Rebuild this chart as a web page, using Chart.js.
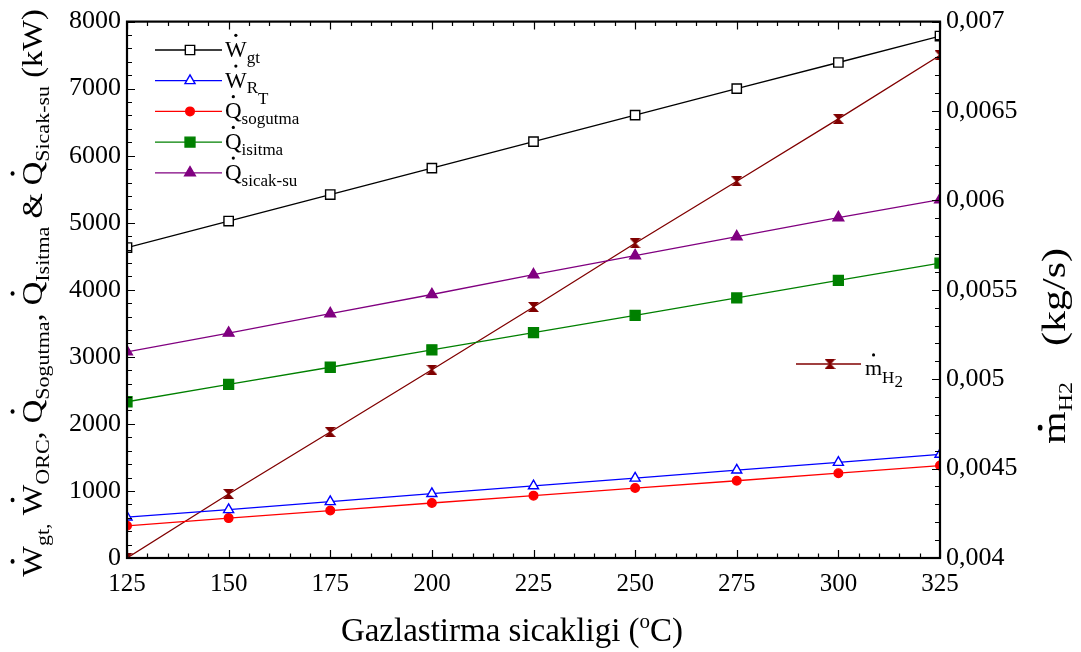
<!DOCTYPE html>
<html>
<head>
<meta charset="utf-8">
<script src="https://cdn.jsdelivr.net/npm/chart.js@4.4.1/dist/chart.umd.min.js"></script>
<style>
  html, body { margin: 0; padding: 0; background: #ffffff; }
  #wrap { width: 1081px; height: 652px; }
</style>
</head>
<body>
<div id="wrap"><canvas id="c" width="1081" height="652"></canvas></div>
<script>
// Gasification temperature (°C)
const temps = [125, 150, 175, 200, 225, 250, 275, 300, 325];

// Powers and heat loads (kW)
const wGt       = [4630, 5025, 5420, 5815, 6210, 6605, 7000, 7390, 7785];
const wRT       = [610, 720, 840, 960, 1075, 1190, 1310, 1425, 1545];
const qSogutma  = [480, 595, 708, 820, 930, 1043, 1152, 1265, 1378];
const qIsitma   = [2330, 2590, 2845, 3105, 3360, 3620, 3880, 4140, 4398];
const qSicakSu  = [3075, 3355, 3645, 3930, 4225, 4510, 4792, 5077, 5345];

// Hydrogen mass flow (kg/s)
const mH2 = [0.004, 0.004358, 0.004705, 0.005053, 0.005404, 0.00576, 0.006107, 0.006456, 0.006812];

// Tick labels
const xTickValues = [125, 150, 175, 200, 225, 250, 275, 300, 325];
const leftTickValues = [0, 1000, 2000, 3000, 4000, 5000, 6000, 7000, 8000];
const rightTickValues = [0.004, 0.0045, 0.005, 0.0055, 0.006, 0.0065, 0.007];
const rightTickLabels = ['0,004', '0,0045', '0,005', '0,0055', '0,006', '0,0065', '0,007'];

const FAM = "'Liberation Serif', 'Times New Roman', serif";

// hourglass marker used for the hydrogen series
function hourglass(color, w, h) {
  const c = document.createElement('canvas');
  c.width = w; c.height = h;
  const g = c.getContext('2d');
  g.fillStyle = color;
  g.beginPath();
  g.moveTo(0, 0); g.lineTo(w, 0); g.lineTo(w / 2 + 1, h / 2);
  g.lineTo(w, h); g.lineTo(0, h); g.lineTo(w / 2 - 1, h / 2);
  g.closePath(); g.fill();
  return c;
}
const hgMarker = hourglass('#800000', 11, 10);

function pts(ys) { return temps.map((t, i) => ({ x: t, y: ys[i] })); }

const series = [
  { data: wGt, color: '#000000', style: 'rect', r: 6.6, fill: '#ffffff', axis: 'y' },
  { data: wRT, color: '#0000ff', style: 'triangle', r: 5.8, fill: '#ffffff', axis: 'y' },
  { data: qSogutma, color: '#ff0000', style: 'circle', r: 4.3, fill: '#ff0000', axis: 'y' },
  { data: qIsitma, color: '#008000', style: 'rect', r: 7, fill: '#008000', axis: 'y' },
  { data: qSicakSu, color: '#800080', style: 'triangle', r: 6.2, fill: '#800080', axis: 'y' },
  { data: mH2, color: '#800000', style: hgMarker, r: 5, fill: '#800000', axis: 'y2' }
];

const datasets = series.map(s => ({
  data: pts(s.data),
  yAxisID: s.axis,
  borderColor: s.color,
  borderWidth: 1.3,
  pointStyle: s.style,
  pointRadius: s.r,
  pointBackgroundColor: s.fill,
  pointBorderColor: s.color,
  pointBorderWidth: 1.4,
  tension: 0
}));

// rich text: parts of {t, size, dy, dot, up, gap}
function partWidth(ctx, p) {
  if (p.gap) return p.gap;
  ctx.font = p.size + 'px ' + FAM;
  return ctx.measureText(p.t).width;
}
function drawRich(ctx, x, y, parts) {
  ctx.fillStyle = '#000';
  ctx.textAlign = 'left';
  ctx.textBaseline = 'alphabetic';
  let cx = x;
  for (const p of parts) {
    const w = partWidth(ctx, p);
    if (!p.gap) {
      ctx.font = p.size + 'px ' + FAM;
      const by = y + (p.dy || 0);
      ctx.fillText(p.t, cx, by);
      if (p.dot) {
        const top = (p.t === 'm') ? p.size * 0.46 : p.size * 0.66;
        ctx.beginPath();
        ctx.arc(cx + w / 2, by - top - p.up, Math.max(1.4, p.size * 0.07), 0, Math.PI * 2);
        ctx.fill();
      }
    }
    cx += w;
  }
  return cx - x;
}
function richWidth(ctx, parts) {
  let w = 0;
  for (const p of parts) w += partWidth(ctx, p);
  return w;
}

// legend labels
const L = 23, S = 17;
const legendLabels = [
  [{ t: 'W', size: L, dot: true, up: 6.5 }, { t: 'gt', size: S, dy: 6 }],
  [{ t: 'W', size: L, dot: true, up: 6.5 }, { t: 'R', size: S, dy: 5 }, { t: 'T', size: S, dy: 16 }],
  [{ t: 'Q', size: L, dot: true, up: 6.5 }, { t: 'sogutma', size: S, dy: 6 }],
  [{ t: 'Q', size: L, dot: true, up: 6.5 }, { t: 'isitma', size: S, dy: 6 }],
  [{ t: 'Q', size: L, dot: true, up: 6.5 }, { t: 'sicak-su', size: S, dy: 6 }]
];
const h2Label = [{ t: 'm', size: 22, dot: true, up: 10 }, { t: 'H', size: 17, dy: 8 }, { t: '2', size: 17, dy: 12 }];

// axis titles
const T = 32.5, TS = 22, TD = 8;
const leftTitle = [
  { t: 'W', size: T, dot: true, up: 12 }, { t: 'gt,', size: TS, dy: TD }, { t: ' ', size: T },
  { t: 'W', size: T, dot: true, up: 12 }, { t: 'ORC', size: TS, dy: TD }, { t: ', ', size: T },
  { t: 'Q', size: T, dot: true, up: 12 }, { t: 'Sogutma', size: TS, dy: TD }, { t: ', ', size: T },
  { t: 'Q', size: T, dot: true, up: 12 }, { t: 'Isitma', size: TS, dy: TD }, { t: ' & ', size: T },
  { t: 'Q', size: T, dot: true, up: 12 }, { t: 'Sicak-su', size: TS, dy: TD }, { t: ' (kW)', size: T }
];
const rightTitle = [
  { t: 'm', size: 42, dot: true, up: 11 }, { t: 'H2', size: 24, dy: 9 }, { gap: 36 }, { t: '(kg/s)', size: 42 }
];
const xTitle = [
  { t: 'Gazlastirma sicakligi (', size: 33 }, { t: 'o', size: 21, dy: -13 }, { t: 'C)', size: 33 }
];

const decor = {
  id: 'decor',
  afterDatasetsDraw(chart) {
    const ctx = chart.ctx;
    const a = chart.chartArea;
    const xs = chart.scales.x, ys = chart.scales.y, y2 = chart.scales.y2;
    ctx.save();
    ctx.strokeStyle = '#000';
    ctx.lineWidth = 1.2;
    ctx.beginPath();
    for (let v = 125; v <= 325; v += 5) {
      const px = Math.round(xs.getPixelForValue(v)) + 0.5;
      const len = (v % 25 === 0) ? 8 : 4.5;
      ctx.moveTo(px, a.bottom); ctx.lineTo(px, a.bottom - len);
      ctx.moveTo(px, a.top); ctx.lineTo(px, a.top + len);
    }
    for (let v = 0; v <= 8000; v += 200) {
      const py = Math.round(ys.getPixelForValue(v)) + 0.5;
      const len = (v % 1000 === 0) ? 8 : 5;
      ctx.moveTo(a.left, py); ctx.lineTo(a.left + len, py);
    }
    for (let k = 40; k <= 70; k++) {
      const py = Math.round(y2.getPixelForValue(k / 10000)) + 0.5;
      const len = (k % 5 === 0) ? 8 : 5;
      ctx.moveTo(a.right, py); ctx.lineTo(a.right - len, py);
    }
    ctx.stroke();
    ctx.lineWidth = 2.2;
    ctx.strokeRect(a.left, a.top, a.right - a.left, a.bottom - a.top);
    ctx.restore();
  },
  afterDraw(chart) {
    const ctx = chart.ctx;
    ctx.save();
    // legend, upper left
    legendLabels.forEach((lab, i) => {
      const ly = 50 + i * 30.7;
      const s = series[i];
      ctx.strokeStyle = s.color; ctx.lineWidth = 1.3;
      ctx.beginPath(); ctx.moveTo(155, ly); ctx.lineTo(222, ly); ctx.stroke();
      ctx.save();
      ctx.fillStyle = s.fill; ctx.strokeStyle = s.color; ctx.lineWidth = 1.4;
      Chart.helpers.drawPoint(ctx, { pointStyle: s.style, radius: s.r, borderWidth: 1.4, rotation: 0 }, 190, ly);
      ctx.restore();
      drawRich(ctx, 225, ly + 7, lab);
    });
    // hydrogen legend entry
    const hs = series[5];
    ctx.strokeStyle = hs.color; ctx.lineWidth = 1.3;
    ctx.beginPath(); ctx.moveTo(796, 364); ctx.lineTo(861, 364); ctx.stroke();
    ctx.drawImage(hgMarker, 830 - hgMarker.width / 2, 364 - hgMarker.height / 2);
    drawRich(ctx, 865, 375, h2Label);

    // left axis title
    const lw = richWidth(ctx, leftTitle);
    ctx.save();
    ctx.translate(42, 293 + lw / 2);
    ctx.rotate(-Math.PI / 2);
    ctx.scale(1, 0.88);
    drawRich(ctx, 0, 0, leftTitle);
    ctx.restore();

    // right axis title
    const rw = richWidth(ctx, rightTitle);
    ctx.save();
    ctx.translate(1065, 346 + rw / 2);
    ctx.rotate(-Math.PI / 2);
    ctx.scale(1, 0.82);
    drawRich(ctx, 0, 0, rightTitle);
    ctx.restore();

    // x axis title
    const xw = richWidth(ctx, xTitle);
    drawRich(ctx, 512 - xw / 2, 641, xTitle);
    ctx.restore();
  }
};

new Chart(document.getElementById('c'), {
  type: 'line',
  data: { datasets },
  options: {
    responsive: false,
    animation: false,
    events: [],
    layout: { padding: { top: 16, left: 0, right: 0, bottom: 0 } },
    plugins: { legend: { display: false }, tooltip: { enabled: false } },
    scales: {
      x: {
        type: 'linear', min: 125, max: 325,
        afterBuildTicks: s => { s.ticks = xTickValues.map(v => ({ value: v })); },
        afterFit: s => { s.height = 94; },
        grid: { display: false, drawTicks: false },
        border: { display: false },
        ticks: { color: '#000', font: { family: FAM, size: 25 }, padding: 11, maxRotation: 0, autoSkip: false,
                 callback: v => String(v) }
      },
      y: {
        type: 'linear', position: 'left', min: 0, max: 8000,
        afterBuildTicks: s => { s.ticks = leftTickValues.map(v => ({ value: v })); },
        afterFit: s => { s.width = 127; },
        grid: { display: false, drawTicks: false },
        border: { display: false },
        ticks: { color: '#000', font: { family: FAM, size: 26 }, padding: 6, autoSkip: false,
                 callback: v => String(v) }
      },
      y2: {
        type: 'linear', position: 'right', min: 0.004, max: 0.007,
        afterBuildTicks: s => { s.ticks = rightTickValues.map(v => ({ value: v })); },
        afterFit: s => { s.width = 141; },
        grid: { display: false, drawTicks: false },
        border: { display: false },
        ticks: { color: '#000', font: { family: FAM, size: 26 }, padding: 6, autoSkip: false,
                 callback: (v, i) => rightTickLabels[i] }
      }
    }
  },
  plugins: [decor]
});
</script>
</body>
</html>
